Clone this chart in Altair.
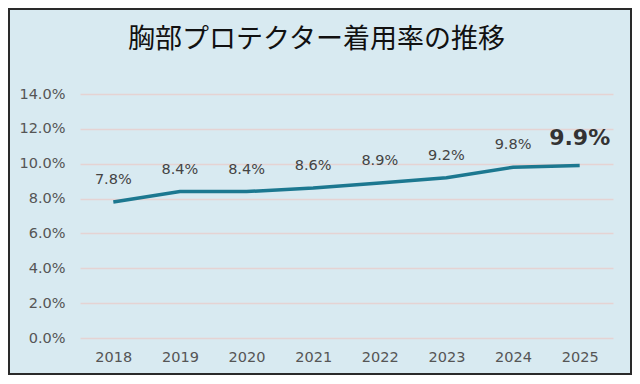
import altair as alt
import pandas as pd

years = ["2018", "2019", "2020", "2021", "2022", "2023", "2024", "2025"]
rates = [7.8, 8.4, 8.4, 8.6, 8.9, 9.2, 9.8, 9.9]
labels = ["7.8%", "8.4%", "8.4%", "8.6%", "8.9%", "9.2%", "9.8%", "9.9%"]
highlight = [False, False, False, False, False, False, False, True]
title_text = "胸部プロテクター着用率の推移"

df = pd.DataFrame({"year": years, "rate": rates, "label": labels, "hl": highlight})

W, H = 533, 244
PL, PT, PR, PB = 72, 86, 19, 37

x = alt.X("year:O", sort=years, scale=alt.Scale(type="point", padding=0.5),
          axis=alt.Axis(title=None, labelAngle=0, ticks=False, domain=False,
                        labelPadding=12, labelFontSize=14.5, labelColor="#555555",
                        labelFont="DejaVu Sans"))
y = alt.Y("rate:Q", scale=alt.Scale(domain=[0, 14]),
          axis=alt.Axis(title=None, values=[0, 2, 4, 6, 8, 10, 12, 14],
                        labelExpr="format(datum.value, '.1f') + '%'",
                        ticks=False, domain=False, labelPadding=15,
                        labelFontSize=14.5, labelColor="#555555", labelFont="DejaVu Sans",
                        grid=True, gridColor="#e5d3d3", gridWidth=1.5))

base = alt.Chart(df)

line = base.mark_line(color="#1c7890", strokeWidth=3.5).encode(x=x, y=y)

text_normal = base.transform_filter("!datum.hl").mark_text(
    dy=-22, fontSize=14.5, color="#444444", font="DejaVu Sans"
).encode(x=x, y=y, text="label:N")

text_hl = base.transform_filter("datum.hl").mark_text(
    dy=-27, fontSize=22, fontWeight="bold", color="#333333", font="DejaVu Sans"
).encode(x=x, y=y, text="label:N")

frame = alt.Chart(pd.DataFrame({"a": [0]})).mark_rect(
    fill=None, stroke="#2a2a2a", strokeWidth=2
).encode(
    x=alt.value(-PL + 1), x2=alt.value(W + PR - 1),
    y=alt.value(-PT + 1), y2=alt.value(H + PB - 1)
)

chart = alt.layer(line, text_normal, text_hl, frame).properties(
    width=W, height=H,
    title=alt.TitleParams(title_text, font="Noto Sans CJK JP", fontSize=27,
                          fontWeight="normal", color="#111111",
                          anchor="middle", frame="group", dx=-30, offset=-46),
    padding={"left": PL, "top": PT, "right": PR, "bottom": PB},
    autosize=alt.AutoSizeParams(type="none"),
    background="#d8eaf1",
).configure_view(stroke=None)

chart.save("out.html", embed_options={"renderer": "svg", "actions": False})
